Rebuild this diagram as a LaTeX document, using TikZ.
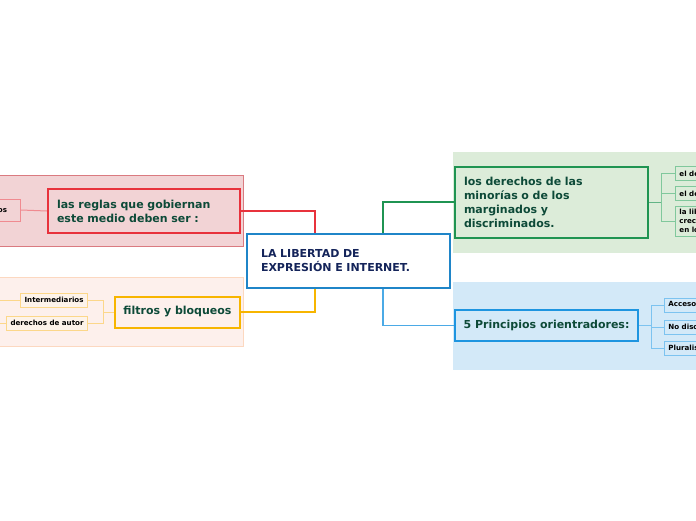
\documentclass[tikz,border=0pt]{standalone}
\usepackage{fontspec}
\setmainfont{DejaVu Sans}
\usetikzlibrary{calc}
\definecolor{txtgreen}{HTML}{0D4A38}
\definecolor{txtnavy}{HTML}{14245A}
\definecolor{redbg}{HTML}{F2D3D5}
\definecolor{redbd}{HTML}{DA7A80}
\definecolor{redc}{HTML}{E8323C}
\definecolor{redlt}{HTML}{F08A90}
\definecolor{yelbg}{HTML}{FDF0EC}
\definecolor{yelbd}{HTML}{FCD8C0}
\definecolor{yelc}{HTML}{F7B500}
\definecolor{yellt}{HTML}{FCD78A}
\definecolor{yelkid}{HTML}{FDF3EA}
\definecolor{grnbg}{HTML}{DCECD9}
\definecolor{grnc}{HTML}{1F9452}
\definecolor{grnlt}{HTML}{80C89C}
\definecolor{blubg}{HTML}{D3E9F8}
\definecolor{bluc}{HTML}{1E95E0}
\definecolor{blult}{HTML}{7CC3F0}
\definecolor{cenc}{HTML}{1F85C8}
\begin{document}
\begin{tikzpicture}[x=1pt,y=-1pt,
  main/.style={draw, line width=2pt, inner sep=0pt, text=txtgreen,
    font=\fontsize{11}{14}\selectfont\bfseries},
  kid/.style={draw, line width=0.9pt, inner xsep=4pt, inner ysep=0pt, text=black,
    font=\fontsize{7.1}{9}\selectfont\bfseries, anchor=west, minimum height=14pt, align=left},
  conn/.style={line width=1.4pt},
  thin/.style={line width=1pt}]
\useasboundingbox (0,0) rectangle (696,520);
\clip (0,0) rectangle (696,520);
% group backgrounds
\fill[redbg] (-2,175) rectangle (244,247);
\draw[redbd, line width=1pt] (-2,175.5) -- (243.5,175.5) -- (243.5,246.5) -- (-2,246.5);
\fill[yelbg] (-2,277) rectangle (244,347);
\draw[yelbd, line width=1pt] (-2,277.5) -- (243.5,277.5) -- (243.5,346.5) -- (-2,346.5);
\fill[grnbg] (453,152) rectangle (700,253);
\fill[blubg] (453,282) rectangle (700,370);
% central
\node[draw=cenc, fill=white, line width=2pt, inner sep=0pt, text=txtnavy,
  font=\fontsize{11}{14}\selectfont\bfseries,
  minimum width=203pt, minimum height=54pt, text width=175pt, align=left]
  (central) at (348.5,261) {LA LIBERTAD DE\\EXPRESIÓN E INTERNET.};
% main topics
\node[main, draw=redc, fill=redbg, minimum width=192pt, minimum height=44pt,
  text width=174pt, align=left] (reglas) at (144,211)
  {las reglas que gobiernan\\este medio deben ser :};
\node[main, draw=yelc, fill=yelbg, minimum width=125pt, minimum height=31pt]
  (filtros) at (177.5,312) {filtros y bloqueos};
\node[main, draw=grnc, fill=grnbg, minimum width=193pt, minimum height=71pt,
  text width=175pt, align=left] (derechos) at (551.5,202)
  {los derechos de las\\minorías o de los\\marginados y\\discriminados.};
\node[main, draw=bluc, fill=blubg, minimum width=183pt, minimum height=31pt]
  (principios) at (546.5,325.5) {5 Principios orientradores:};
% connectors
\draw[conn, redc] (reglas.east) -| ([xshift=-33.5pt]central.north);
\draw[conn, yelc] (filtros.east) -| ([xshift=-33.5pt]central.south);
\draw[conn, grnc] ([xshift=34.5pt]central.north) |- (derechos.west);
\draw[conn, bluc!80!white] ([xshift=34.5pt]central.south) |- (principios.west);
% red child
\node[kid, draw=redlt, fill=redbg, minimum height=22pt, anchor=east,
  text width=43pt, align=left] (pub) at (21,210) {Públicos};
\draw[thin, redlt] (pub.east) -- (reglas.west);
% yellow children
\node[kid, draw=yellt, fill=yelkid, anchor=east] (inter) at (88,300) {Intermediarios};
\node[kid, draw=yellt, fill=yelkid, anchor=east] (autor) at (88,323) {derechos de autor};
\coordinate (yb) at ($(filtros.west)+(-11,0)$);
\draw[thin, yellt] (filtros.west) -- (yb);
\draw[thin, yellt] (inter.east) -| (yb);
\draw[thin, yellt] (autor.east) -| (yb);
\coordinate (yl1) at (-2,300);
\coordinate (yl2) at (-2,323);
\draw[thin, yellt] (inter.west) -- (yl1);
\draw[thin, yellt] (autor.west) -- (yl2);
% green children
\node[kid, draw=grnlt, fill=grnbg] (g1) at (675,173.5) {el derecho a la información};
\node[kid, draw=grnlt, fill=grnbg] (g2) at (675,193.5) {el derecho a la cultura};
\node[kid, draw=grnlt, fill=grnbg, minimum height=30pt] (g3) at (675,221)
  {la libertad de expresión\\crecimiento y desarrollo\\en los medios};
\coordinate (gb) at ($(derechos.east)+(12,0)$);
\draw[thin, grnc!70!white] (derechos.east) -- (gb);
\draw[thin, grnlt] (g1.west) -| (gb);
\draw[thin, grnlt] (g2.west) -| (gb);
\draw[thin, grnlt] (g3.west) -| (gb);
% blue children
\node[kid, draw=blult, fill=blubg] (b1) at (664,305) {Acceso en igualdad de condiciones};
\node[kid, draw=blult, fill=blubg] (b2) at (664,327) {No discriminación};
\node[kid, draw=blult, fill=blubg] (b3) at (664,348) {Pluralismo};
\coordinate (bb) at ($(principios.east)+(12,0)$);
\draw[thin, blult] (principios.east) -- (bb);
\draw[thin, blult] (b1.west) -| (bb);
\draw[thin, blult] (b2.west) -| (bb);
\draw[thin, blult] (b3.west) -| (bb);
\end{tikzpicture}
\end{document}
